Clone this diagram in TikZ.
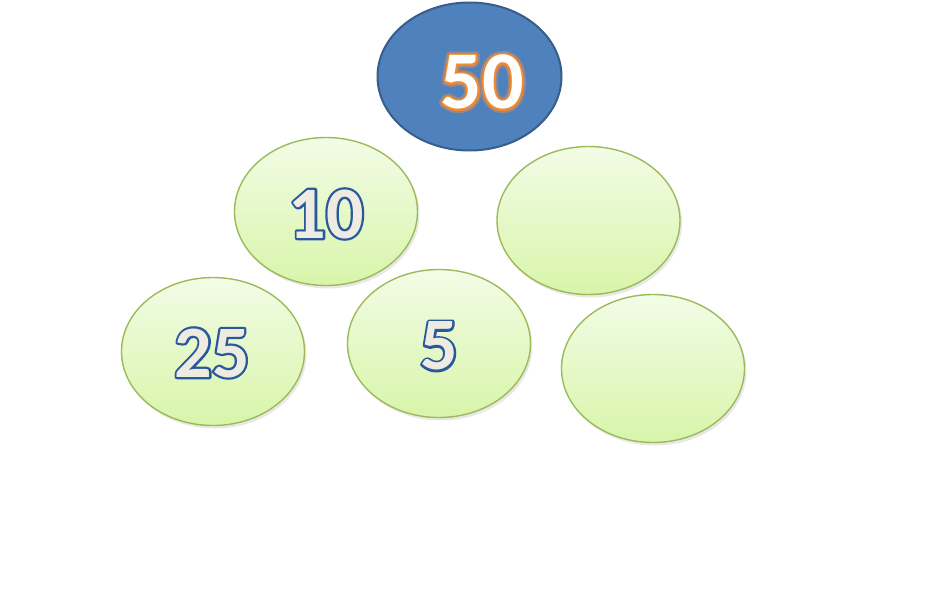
\documentclass[tikz,border=0pt]{standalone}
\usepackage{fontspec}
\setmainfont{Carlito}
\usetikzlibrary{shapes.geometric,shadows}
\definecolor{TopBlue}{HTML}{4F81BD}
\definecolor{TopEdge}{HTML}{385D8A}
\definecolor{LeafEdge}{HTML}{9BBB59}
\definecolor{LeafTop}{HTML}{F2FCE6}
\definecolor{LeafBottom}{HTML}{D8F5AA}
\definecolor{NumFill}{HTML}{EEECE1}
% outlined digits: stroke colour (r g b), stroke width, text; stroke behind the fill
\newcommand{\numstroke}[3]{%
  \rlap{\special{pdf:literal direct #1 RG #2 w 1 j 1 Tr}#3\special{pdf:literal direct 0 Tr}}}
\newcommand{\numoutline}[3]{\numstroke{#1}{#2}{#3}#3}
\tikzset{
  topoval/.style={ellipse,draw=TopEdge,line width=2pt,fill=TopBlue,
    minimum width=184pt,minimum height=148pt,inner sep=0pt},
  leafoval/.style={ellipse,draw=LeafEdge,line width=1.4pt,
    top color=LeafTop,bottom color=LeafBottom,
    minimum width=183pt,minimum height=148pt,inner sep=0pt,
    drop shadow={shadow xshift=2pt,shadow yshift=-3pt,opacity=0.18}},
  leafnum/.style={font=\bfseries\fontsize{74}{74}\selectfont,text=NumFill},
  topnum/.style={font=\bfseries\fontsize{82}{82}\selectfont,text=white}
}
\begin{document}
\begin{tikzpicture}[x=1pt,y=-1pt]
  \useasboundingbox (0,0) rectangle (940,605);
  \node[topoval] (total) at (469.5,76.5) {};
  \node[topnum] (totalnum) at (482,82)
    {\numstroke{0.58 0.53 0.55}{8}{50}\numoutline{0.94 0.54 0.19}{4}{50}};
  % second row
  \node[leafoval] (ten) at (326,211.5) {};
  \node[leafoval] (blankA) at (588.5,220.5) {};
  % bottom row
  \node[leafoval] (twentyfive) at (213,351.5) {};
  \node[leafoval] (five) at (439,343.5) {};
  \node[leafoval] (blankB) at (653,368.5) {};
  \node[leafnum] (tennum) at (326,214) {\numoutline{0.16 0.35 0.61}{4.5}{10}};
  \node[leafnum] (twentyfivenum) at (212,353) {\numoutline{0.16 0.35 0.61}{4.5}{25}};
  \node[leafnum] (fivenum) at (439,346) {\numoutline{0.16 0.35 0.61}{4.5}{5}};
\end{tikzpicture}
\end{document}
